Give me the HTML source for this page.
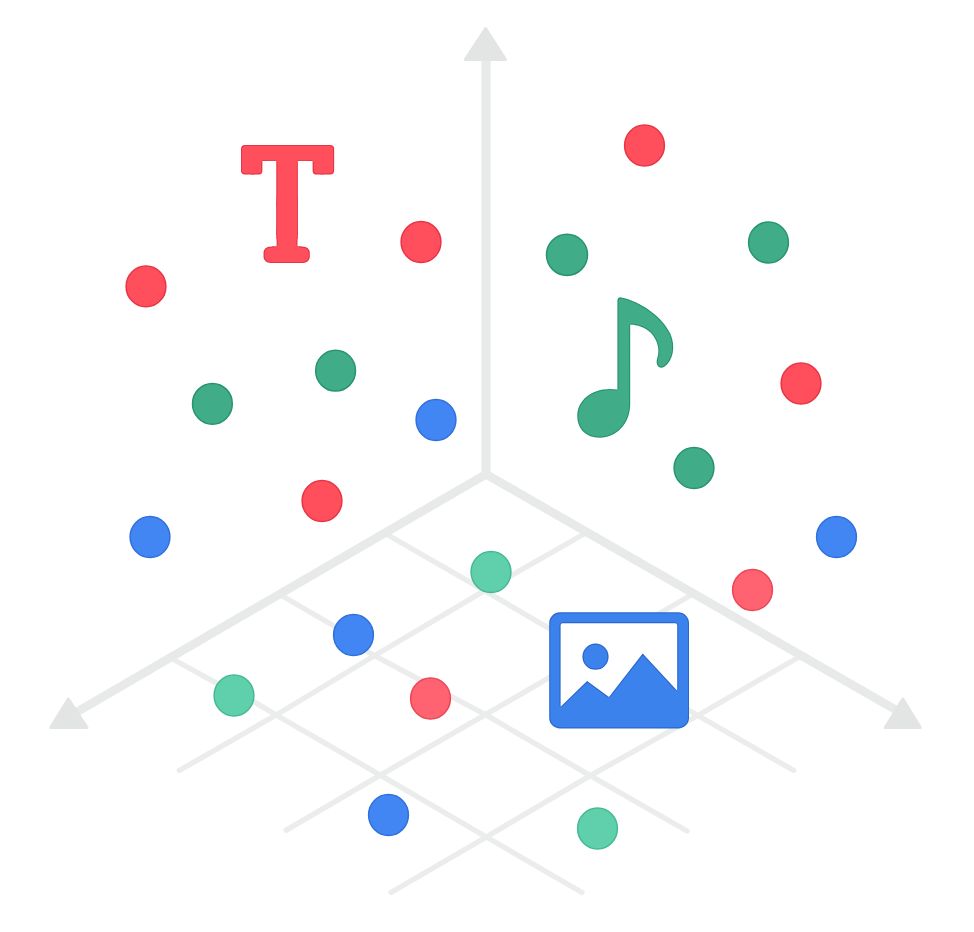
<!DOCTYPE html>
<html lang="en">
<head>
<meta charset="utf-8">
<title>Embedding space</title>
<style>
  html,body{margin:0;padding:0;background:#ffffff;}
  body{width:974px;height:932px;overflow:hidden;position:relative;}
  svg{display:block;position:absolute;left:0;top:0;}
  .ax{stroke:#e8e9e9;stroke-linecap:butt;fill:none;}
  .gr{stroke:#ebecec;stroke-width:5.4;stroke-linecap:round;fill:none;}
  .ah{fill:#e3e4e4;stroke:#e3e4e4;stroke-width:3;stroke-linejoin:round;}
  .r{fill:#ff4f5c;stroke:#e93444;stroke-width:1.5;}
  .g{fill:#41ad88;stroke:#27956c;stroke-width:1.5;}
  .b{fill:#4286f4;stroke:#3070dd;stroke-width:1.5;}
  .lg{fill:#60cfab;stroke:#45ba92;stroke-width:1.5;}
  .lr{fill:#ff6371;stroke:#ec4556;stroke-width:1.5;}
</style>
</head>
<body>
<svg width="974" height="932" viewBox="0 0 974 932">
  <defs>
    <clipPath id="tclip"><polygon points="235,138 340,138 340,182 309.5,182 309.5,160.8 297.5,160.8 297.5,246.3 318.75,246.3 318.75,270 254.75,270 254.75,246.3 276.6,246.3 276.6,160.8 265.5,160.8 265.5,182 235,182"/></clipPath>
    <filter id="edgeR" x="-5%" y="-5%" width="110%" height="110%" color-interpolation-filters="sRGB">
      <feGaussianBlur in="SourceAlpha" stdDeviation="1.3" result="bl"/>
      <feComponentTransfer in="bl" result="er"><feFuncA type="linear" slope="6" intercept="-4.5"/></feComponentTransfer>
      <feFlood flood-color="#ff4f5c" result="fc"/>
      <feComposite in="fc" in2="er" operator="in" result="inner"/>
      <feFlood flood-color="#e93444" result="ec"/>
      <feComposite in="ec" in2="SourceAlpha" operator="in" result="outer"/>
      <feMerge><feMergeNode in="outer"/><feMergeNode in="inner"/></feMerge>
    </filter>
    <filter id="edgeG" x="-5%" y="-5%" width="110%" height="110%" color-interpolation-filters="sRGB">
      <feGaussianBlur in="SourceAlpha" stdDeviation="1.3" result="bl"/>
      <feComponentTransfer in="bl" result="er"><feFuncA type="linear" slope="6" intercept="-4.5"/></feComponentTransfer>
      <feFlood flood-color="#41ad88" result="fc"/>
      <feComposite in="fc" in2="er" operator="in" result="inner"/>
      <feFlood flood-color="#27956c" result="ec"/>
      <feComposite in="ec" in2="SourceAlpha" operator="in" result="outer"/>
      <feMerge><feMergeNode in="outer"/><feMergeNode in="inner"/></feMerge>
    </filter>
    <filter id="edgeB" x="-5%" y="-5%" width="110%" height="110%" color-interpolation-filters="sRGB">
      <feGaussianBlur in="SourceAlpha" stdDeviation="1.3" result="bl"/>
      <feComponentTransfer in="bl" result="er"><feFuncA type="linear" slope="6" intercept="-4.5"/></feComponentTransfer>
      <feFlood flood-color="#3b82ec" result="fc"/>
      <feComposite in="fc" in2="er" operator="in" result="inner"/>
      <feFlood flood-color="#2a66cf" result="ec"/>
      <feComposite in="ec" in2="SourceAlpha" operator="in" result="outer"/>
      <feMerge><feMergeNode in="outer"/><feMergeNode in="inner"/></feMerge>
    </filter>
  </defs>
  <rect width="974" height="932" fill="#ffffff"/>

  <!-- floor grid -->
  <g class="gr" id="grid" stroke-linejoin="round">
    <polyline points="387,534.5 484.6,590.6 697.8,715.5 793.7,770.5"/>
    <polyline points="281.5,595.5 340,629.5 366,650.5 374.4,655.7 485.4,714.7 590.3,775.6 687,831"/>
    <polyline points="173.5,659.5 216,682.8 254.6,702.1 276.2,715 380.3,775.1 486.3,837 582,892.5"/>
    <polyline points="584,534 484.6,590.6 374.4,655.7 276.2,715 179.3,770.5"/>
    <polyline points="689.5,596 485.4,714.7 380.3,775.1 286.3,830.2"/>
    <polyline points="799,657 697.8,715.5 590.3,775.6 486.3,837 391,892.5"/>
  </g>

  <!-- axes -->
  <g class="ax" id="axes">
    <line x1="486" y1="478" x2="486" y2="58" stroke-width="9.2"/>
    <line x1="486" y1="474.2" x2="76" y2="712.4" stroke-width="8.7"/>
    <line x1="486" y1="474.2" x2="896" y2="710" stroke-width="8.7"/>
  </g>
  <g class="ah" id="heads">
    <polygon points="485.6,28.6 505.5,59.5 465.3,59.5"/>
    <polygon points="68.3,699 87,727.5 50.8,727.5"/>
    <polygon points="902.8,699 920.3,727.5 885.3,727.5"/>
  </g>

  <!-- scatter dots -->
  <g id="dots">
    <ellipse class="r" cx="146" cy="286.4" rx="19.9" ry="20.4"/>
    <ellipse class="r" cx="421" cy="242" rx="19.9" ry="20.4"/>
    <ellipse class="g" cx="212.4" cy="403.8" rx="19.9" ry="20.4"/>
    <ellipse class="g" cx="335.6" cy="370.7" rx="19.9" ry="20.4"/>
    <ellipse class="b" cx="436" cy="420" rx="19.9" ry="20.4"/>
    <ellipse class="r" cx="644.5" cy="145.5" rx="19.9" ry="20.4"/>
    <ellipse class="g" cx="567" cy="254.8" rx="20.5" ry="20.6"/>
    <ellipse class="g" cx="768.5" cy="242.5" rx="19.9" ry="20.4"/>
    <ellipse class="r" cx="801" cy="383.5" rx="19.9" ry="20.4"/>
    <ellipse class="g" cx="694" cy="468" rx="19.9" ry="20.4"/>
    <ellipse class="b" cx="150" cy="537" rx="19.9" ry="20.4"/>
    <ellipse class="r" cx="322" cy="501" rx="19.9" ry="20.4"/>
    <ellipse class="lg" cx="491" cy="572" rx="19.9" ry="20.4"/>
    <ellipse class="b" cx="353.5" cy="635" rx="19.9" ry="20.4"/>
    <ellipse class="lg" cx="234" cy="695.5" rx="19.9" ry="20.4"/>
    <ellipse class="lr" cx="430.5" cy="698.5" rx="19.9" ry="20.4"/>
    <ellipse class="b" cx="388.5" cy="815" rx="19.9" ry="20.4"/>
    <ellipse class="b" cx="836.5" cy="537" rx="19.9" ry="20.4"/>
    <ellipse class="lr" cx="752.5" cy="590" rx="19.9" ry="20.4"/>
    <ellipse class="lg" cx="597.5" cy="828.5" rx="19.9" ry="20.4"/>
  </g>

  <!-- text glyph -->
  <g id="glyphT" filter="url(#edgeR)">
    <g clip-path="url(#tclip)" font-family="'DejaVu Serif','Liberation Serif',serif" font-weight="bold" font-size="100" fill="#ff4f5c" stroke="#ff4f5c" stroke-linejoin="round">
      <text transform="translate(243.68 235.23) scale(1.17617 1.18374)" stroke-width="6.9">T</text>
      <text transform="translate(251.56 235.23) scale(0.96461 1.18374)" stroke-width="6.9">T</text>
      <text transform="translate(255.09 256.7) scale(0.84992 0.74547)" stroke-width="16.1">T</text>
    </g>
  </g>

  <!-- music note -->
  <g filter="url(#edgeG)">
  <path id="note" fill="#41ad88"
    d="M617.4 301 Q617.4 297 621 297.4 C640 301 662 316 670.5 334 C676 347 673 361 664 367 C659 369.5 655.5 365 657 359 C660 350 658 341 651 333 C645 327 637 324.7 630.2 324.7 L630.2 404 C630.2 424 616 437.7 600 437.7 C586 437.7 577.3 429 577.3 416 C577.3 400 592 389 610 389 L617.4 389.4 Z"/>
  </g>

  <!-- picture icon -->
  <rect x="556" y="619" width="126" height="96" fill="#ffffff"/>
  <g id="pic" filter="url(#edgeB)">
    <path fill="#3b82ec" fill-rule="evenodd" d="M560 612.3 H678.2 A10.8 10.8 0 0 1 689 623.1 V717.7 A10.8 10.8 0 0 1 678.2 728.5 H560 A10.8 10.8 0 0 1 549.2 717.7 V623.1 A10.8 10.8 0 0 1 560 612.3 Z M562.5 623.2 H675.2 Q677.2 623.2 677.2 625.2 V690.7 L642.7 653.4 L609 696.9 L587.1 681 L560.6 706.8 V625.2 Q560.6 623.2 562.5 623.2 Z"/>
    <circle cx="595.5" cy="656.7" r="13.1" fill="#3b82ec"/>
  </g>
</svg>
</body>
</html>
